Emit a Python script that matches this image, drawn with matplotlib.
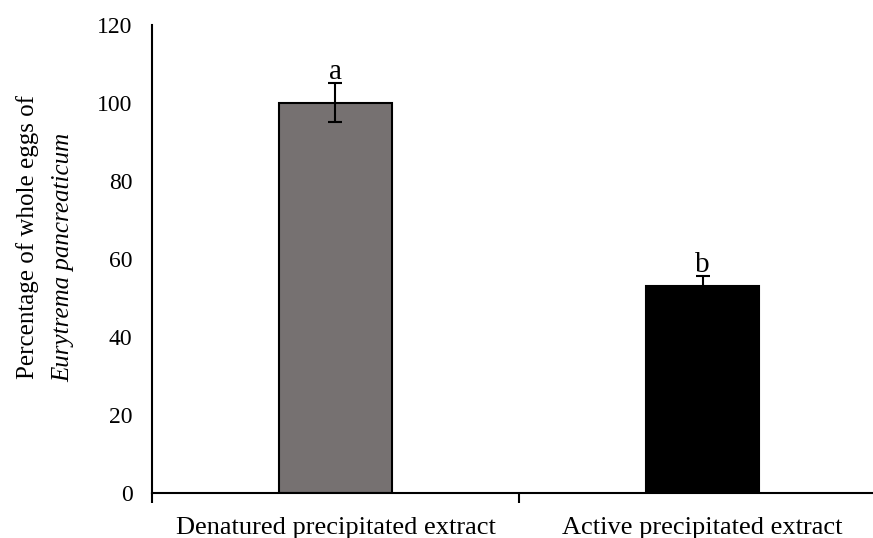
import matplotlib.pyplot as plt

plt.rcParams['font.family'] = ['Liberation Serif', 'DejaVu Serif']

categories = ['Denatured precipitated extract', 'Active precipitated extract']
values = [100, 53]
errors = [5, 2.7]
letters = ['a', 'b']
colors = ['#767171', '#000000']

fig = plt.figure(figsize=(8.73, 5.38), dpi=100)
ax = fig.add_axes([0.174, 0.0836, 0.841, 0.87])

x = range(len(categories))
ax.bar(x, values, width=0.31, color=colors, edgecolor='black', linewidth=1.5, zorder=2)
ax.errorbar(x, values, yerr=errors, fmt='none', ecolor='black', elinewidth=1.5,
            capsize=5, capthick=1.5, zorder=3)
for i in x:
    ax.annotate(letters[i], (i, values[i] + errors[i]), xytext=(0, 3),
                textcoords='offset points', ha='center', va='baseline', fontsize=21)

ax.set_xlim(-0.5, 1.5)
ax.set_ylim(0, 120)
ax.set_yticks(range(0, 121, 20))
ax.set_xticks(list(x))
ax.set_xticklabels(categories, fontsize=19)
ax.set_xticks([-0.5, 0.5, 1.5], minor=True)
ax.tick_params(axis='x', which='major', length=0, pad=17)
ax.tick_params(axis='x', which='minor', length=7, width=1.5, direction='out')
ax.tick_params(axis='y', length=0, labelsize=17, pad=14)
for s in ['top', 'right']:
    ax.spines[s].set_visible(False)
for s in ['left', 'bottom']:
    ax.spines[s].set_linewidth(1.5)

fig.text(0.031, 1 - 237 / 538, 'Percentage of whole eggs of', rotation=90,
         ha='center', va='center', fontsize=18)
fig.text(0.072, 1 - 257 / 538, 'Eurytrema pancreaticum', rotation=90,
         ha='center', va='center', fontsize=18, style='italic')

fig.savefig('out.png', dpi=100)
